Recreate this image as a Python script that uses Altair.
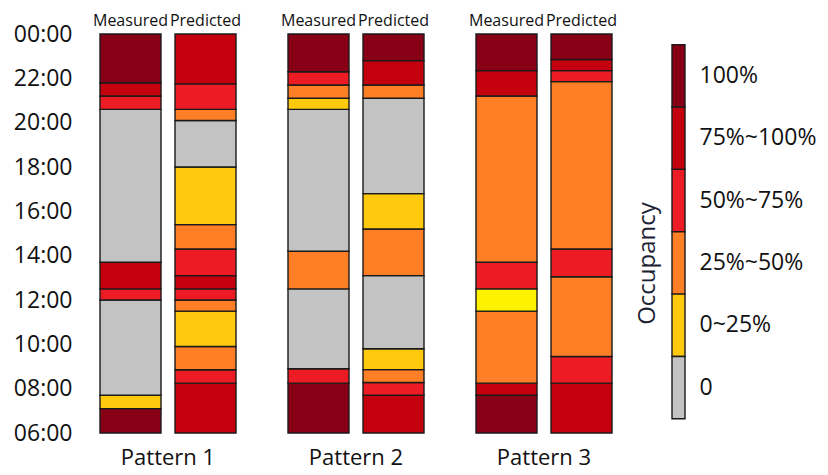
import altair as alt
import pandas as pd

FONT = "Open Sans"
INK = "#111111"

PATTERNS = ["Pattern 1", "Pattern 2", "Pattern 3"]
TYPES = ["Measured", "Predicted"]

# Occupancy levels (legend order, top to bottom) and their colours
LEVELS = ["100%", "75%~100%", "50%~75%", "25%~50%", "0~25%", "0"]
LEVEL_COLORS = ["#880015", "#C4000F", "#ED1C24", "#FF7F27", "#FFC90E", "#C3C3C3"]
ALT_YELLOW = "#FFF200"  # one segment in Pattern 3 is drawn in a brighter yellow

# Segment boundaries in hours (bottom 06:00 -> top 24:00) and the level of each segment
P1_MEAS_BOUNDS = [6, 7.1, 7.7, 12.0, 12.5, 13.7, 20.6, 21.2, 21.8, 24]
P1_MEAS_LEVELS = ["100%", "0~25%", "0", "50%~75%", "75%~100%", "0", "50%~75%", "75%~100%", "100%"]

P1_PRED_BOUNDS = [6, 8.25, 8.85, 9.9, 11.5, 12.0, 12.5, 13.1, 14.3, 15.4, 18.0, 20.1, 20.6, 21.75, 24]
P1_PRED_LEVELS = ["75%~100%", "50%~75%", "25%~50%", "0~25%", "25%~50%", "50%~75%", "75%~100%",
                  "50%~75%", "25%~50%", "0~25%", "0", "25%~50%", "50%~75%", "75%~100%"]

P2_MEAS_BOUNDS = [6, 8.25, 8.9, 12.5, 14.2, 20.6, 21.1, 21.7, 22.3, 24]
P2_MEAS_LEVELS = ["100%", "50%~75%", "0", "25%~50%", "0", "0~25%", "25%~50%", "50%~75%", "100%"]

P2_PRED_BOUNDS = [6, 7.7, 8.28, 8.86, 9.8, 13.1, 15.2, 16.8, 21.1, 21.7, 22.8, 24]
P2_PRED_LEVELS = ["75%~100%", "50%~75%", "25%~50%", "0~25%", "0", "25%~50%", "0~25%", "0",
                  "25%~50%", "75%~100%", "100%"]

P3_MEAS_BOUNDS = [6, 7.7, 8.25, 11.5, 12.5, 13.7, 21.2, 22.35, 24]
P3_MEAS_LEVELS = ["100%", "75%~100%", "25%~50%", "0~25%*", "50%~75%", "25%~50%", "75%~100%", "100%"]

P3_PRED_BOUNDS = [6, 8.25, 9.45, 13.05, 14.3, 21.85, 22.35, 22.85, 24]
P3_PRED_LEVELS = ["75%~100%", "50%~75%", "25%~50%", "50%~75%", "25%~50%", "50%~75%", "75%~100%", "100%"]

BARS = [
    ("Pattern 1", "Measured", P1_MEAS_BOUNDS, P1_MEAS_LEVELS),
    ("Pattern 1", "Predicted", P1_PRED_BOUNDS, P1_PRED_LEVELS),
    ("Pattern 2", "Measured", P2_MEAS_BOUNDS, P2_MEAS_LEVELS),
    ("Pattern 2", "Predicted", P2_PRED_BOUNDS, P2_PRED_LEVELS),
    ("Pattern 3", "Measured", P3_MEAS_BOUNDS, P3_MEAS_LEVELS),
    ("Pattern 3", "Predicted", P3_PRED_BOUNDS, P3_PRED_LEVELS),
]

color_of = dict(zip(LEVELS, LEVEL_COLORS))
color_of["0~25%*"] = ALT_YELLOW

rows = []
for pattern, kind, bounds, levels in BARS:
    for i, lev in enumerate(levels):
        rows.append({"pattern": pattern, "type": kind, "start": bounds[i], "end": bounds[i + 1],
                     "level": lev.rstrip("*"), "color": color_of[lev]})
df = pd.DataFrame(rows)

TICKS = [6, 8, 10, 12, 14, 16, 18, 20, 22, 24]

bars = alt.Chart(df).mark_rect(stroke="#1a1a1a", strokeWidth=1.4).encode(
    x=alt.X("type:N", sort=TYPES,
            scale=alt.Scale(paddingInner=0.1867, paddingOuter=0),
            axis=alt.Axis(orient="top", title=None, labelAngle=0, ticks=False, domain=False,
                          labelFontSize=16, labelPadding=5, labelColor=INK, labelFont=FONT)),
    y=alt.Y("start:Q", scale=alt.Scale(domain=[6, 24], nice=False, zero=False),
            axis=alt.Axis(values=TICKS, title=None, ticks=False, domain=False, grid=False,
                          labelExpr="(datum.value == 24 ? '00' : (datum.value < 10 ? '0' + datum.value : '' + datum.value)) + ':00'",
                          labelFontSize=23, labelPadding=27, labelColor=INK, labelFont=FONT)),
    y2="end:Q",
    color=alt.Color("color:N", scale=None),
).properties(width=136, height=399).facet(
    column=alt.Column("pattern:N", sort=PATTERNS,
                      header=alt.Header(labelOrient="bottom", title=None, labelFontSize=22,
                                        labelPadding=14, labelColor=INK, labelFont=FONT)),
    spacing=50,
)

leg_df = pd.DataFrame({"level": LEVELS, "color": LEVEL_COLORS})
legend = alt.Chart(leg_df).mark_rect(stroke="#1a1a1a", strokeWidth=1.4).encode(
    y=alt.Y("level:N", sort=LEVELS,
            scale=alt.Scale(paddingInner=0, paddingOuter=0.2, align=0.43),
            axis=alt.Axis(orient="right", title="Occupancy", titleAngle=270, titleX=-38, titleY=229,
                          titleAlign="center", titleBaseline="middle", titleFontSize=24,
                          titleFontWeight="normal", titleColor="#1c2233", titleFont=FONT,
                          ticks=False, domain=False, labelFontSize=23, labelPadding=14,
                          labelColor=INK, labelFont=FONT)),
    color=alt.Color("color:N", scale=None),
).properties(width=13, height=399)

chart = alt.hconcat(bars, legend, spacing=18).properties(
    padding={"left": 5, "top": 4, "right": 2, "bottom": 2}
).configure(font=FONT).configure_view(stroke=None)

chart.save("out.html", embed_options={"renderer": "svg", "actions": False})
